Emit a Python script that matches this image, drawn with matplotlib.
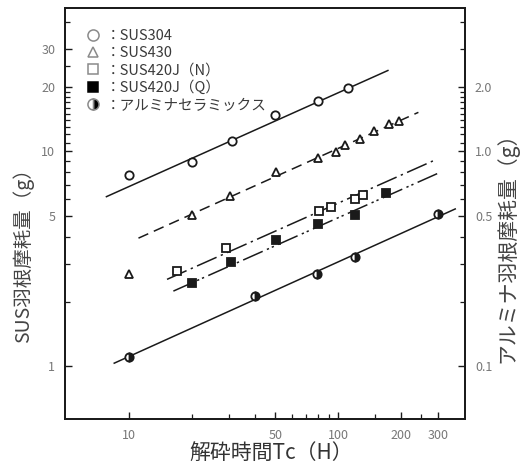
import matplotlib
matplotlib.use("Agg")
import matplotlib.pyplot as plt
from matplotlib.lines import Line2D
from matplotlib.ticker import FixedLocator, FixedFormatter, NullFormatter

plt.rcParams["font.family"] = ["Noto Sans CJK JP", "DejaVu Sans"]

# ---------------------------------------------------------------------------
# Data
# ---------------------------------------------------------------------------

sus304_x = [10, 20, 31, 50, 80, 111]
sus304_y = [7.78, 8.91, 11.2, 14.8, 17.2, 19.7]
sus304_fit_x = [7.8, 173]
sus304_fit_y = [6.16, 23.8]

sus430_x = [10, 20, 30.5, 50.5, 80, 98, 108, 127, 149, 175, 196]
sus430_y = [2.69, 5.07, 6.21, 8.0, 9.31, 9.93, 10.7, 11.4, 12.5, 13.4, 13.9]
sus430_fit_x = [11.1, 242]
sus430_fit_y = [3.95, 15.2]

sus420n_x = [17, 29, 81, 92, 121, 131]
sus420n_y = [2.78, 3.55, 5.29, 5.54, 6.01, 6.28]
sus420n_fit_x = [15.2, 286]
sus420n_fit_y = [2.54, 9.06]

sus420q_x = [20, 30.8, 50.4, 80.5, 120, 169]
sus420q_y = [2.44, 3.05, 3.88, 4.6, 5.08, 6.43]
sus420q_fit_x = [16.3, 308]
sus420q_fit_y = [2.24, 8.0]

alumina_x = [10, 40, 79, 120, 300]
alumina_y = [0.111, 0.213, 0.269, 0.324, 0.51]
alumina_fit_x = [8.5, 363]
alumina_fit_y = [0.1035, 0.54]

legend_labels = ["：SUS304", "：SUS430", "：SUS420J（N）", "：SUS420J（Q）", "：アルミナセラミックス"]

x_major = [10, 50, 100, 200, 300]
x_minor = [20, 30, 40, 60, 70, 80, 90, 150, 250]
yl_major = [1, 5, 10, 20, 30]
yl_minor = [2, 3, 4, 6, 7, 8, 9, 11, 12, 13, 14, 15, 16, 17, 18, 19, 25, 40]
yr_major = [0.1, 0.5, 1.0, 2.0]
yr_labels = ["0.1", "0.5", "1.0", "2.0"]
yr_minor = [0.2, 0.3, 0.4, 0.6, 0.7, 0.8, 0.9, 1.1, 1.2, 1.3, 1.4, 1.5, 1.6, 1.7,
            1.8, 1.9, 3.0, 4.0]

xlim = (4.94, 405)
ylim = (0.57, 46.5)

# ---------------------------------------------------------------------------
# Figure
# ---------------------------------------------------------------------------

fig = plt.figure(figsize=(5.28, 4.68), dpi=100)
ax = fig.add_axes([0.123, 0.105, 0.758, 0.878])
ax2 = ax.twinx()

ink = "#1a1a1a"
lw = 1.1
ms = 6

ax.plot(sus304_fit_x, sus304_fit_y, color=ink, lw=lw)
ax.plot(sus304_x, sus304_y, "o", ms=ms, mfc="white", mec=ink, mew=1.3)

ax.plot(sus430_fit_x, sus430_fit_y, color=ink, lw=lw, dashes=(7, 4))
ax.plot(sus430_x, sus430_y, "^", ms=ms - 0.5, mfc="white", mec=ink, mew=1.3)

ax.plot(sus420n_fit_x, sus420n_fit_y, color=ink, lw=lw, dashes=(14, 3, 1.5, 3))
ax.plot(sus420n_x, sus420n_y, "s", ms=ms - 0.5, mfc="white", mec=ink, mew=1.3)

ax.plot(sus420q_fit_x, sus420q_fit_y, color=ink, lw=lw, dashes=(14, 3, 1.5, 2, 1.5, 3))
ax.plot(sus420q_x, sus420q_y, "s", ms=ms - 0.5, mfc=ink, mec=ink, mew=1.3)

ax2.plot(alumina_fit_x, alumina_fit_y, color=ink, lw=lw)
ax2.plot(alumina_x, alumina_y, "o", ms=ms, fillstyle="right", mfc=ink,
         mfcalt="white", mec=ink, mew=1.3)

for a in (ax, ax2):
    a.set_xscale("log")
    a.set_yscale("log")
ax.set_xlim(*xlim)
ax.set_ylim(*ylim)
ax2.set_ylim(ylim[0] / 10, ylim[1] / 10)

tick_color = "#777777"
ax.xaxis.set_major_locator(FixedLocator(x_major))
ax.xaxis.set_major_formatter(FixedFormatter([str(v) for v in x_major]))
ax.xaxis.set_minor_locator(FixedLocator(x_minor))
ax.xaxis.set_minor_formatter(NullFormatter())
ax.yaxis.set_major_locator(FixedLocator(yl_major))
ax.yaxis.set_major_formatter(FixedFormatter([str(v) for v in yl_major]))
ax.yaxis.set_minor_locator(FixedLocator(yl_minor))
ax.yaxis.set_minor_formatter(NullFormatter())
ax2.yaxis.set_major_locator(FixedLocator(yr_major))
ax2.yaxis.set_major_formatter(FixedFormatter(yr_labels))
ax2.yaxis.set_minor_locator(FixedLocator(yr_minor))
ax2.yaxis.set_minor_formatter(NullFormatter())

ax.tick_params(axis="x", which="both", direction="in", top=False, color=ink)
ax.tick_params(axis="y", which="both", direction="in", right=False, color=ink)
ax2.tick_params(axis="y", which="both", direction="in", color=ink)
for a in (ax, ax2):
    a.tick_params(which="major", length=5, width=1.0, labelsize=9,
                  labelcolor=tick_color, pad=7)
    a.tick_params(which="minor", length=3.5, width=0.9)
    for sp in a.spines.values():
        sp.set_linewidth(1.3)
        sp.set_color(ink)

ax.set_ylabel("SUS羽根摩耗量（g）", fontsize=14, color="#444444")
ax.yaxis.set_label_coords(-0.078, 0.41)
ax2.set_ylabel("アルミナ羽根摩耗量（g）", fontsize=15, color="#444444")
ax2.yaxis.set_label_coords(1.077, 0.43)
ax.set_xlabel("解砕時間Tc（H）", fontsize=15, color="#333333")
ax.xaxis.set_label_coords(0.515, -0.055)

leg_color = "#8a8a8a"
handles = [
    Line2D([], [], ls="none", marker="o", ms=8, mfc="white", mec=leg_color, mew=1.1),
    Line2D([], [], ls="none", marker="^", ms=7.5, mfc="white", mec=leg_color, mew=1.1),
    Line2D([], [], ls="none", marker="s", ms=7.5, mfc="white", mec=leg_color, mew=1.1),
    Line2D([], [], ls="none", marker="s", ms=7.5, mfc="black", mec="black", mew=1.1),
    Line2D([], [], ls="none", marker="o", ms=8, fillstyle="right", mfc="black",
           mfcalt="white", mec=leg_color, mew=1.1),
]
ax.legend(handles, legend_labels, loc="upper left", bbox_to_anchor=(0.03, 0.97),
          frameon=False, handlelength=1.0, handletextpad=0.35, labelspacing=0.22,
          prop={"size": 10.5}, labelcolor="#3a3a3a", borderaxespad=0.2)

fig.savefig("out.png", dpi=100)
